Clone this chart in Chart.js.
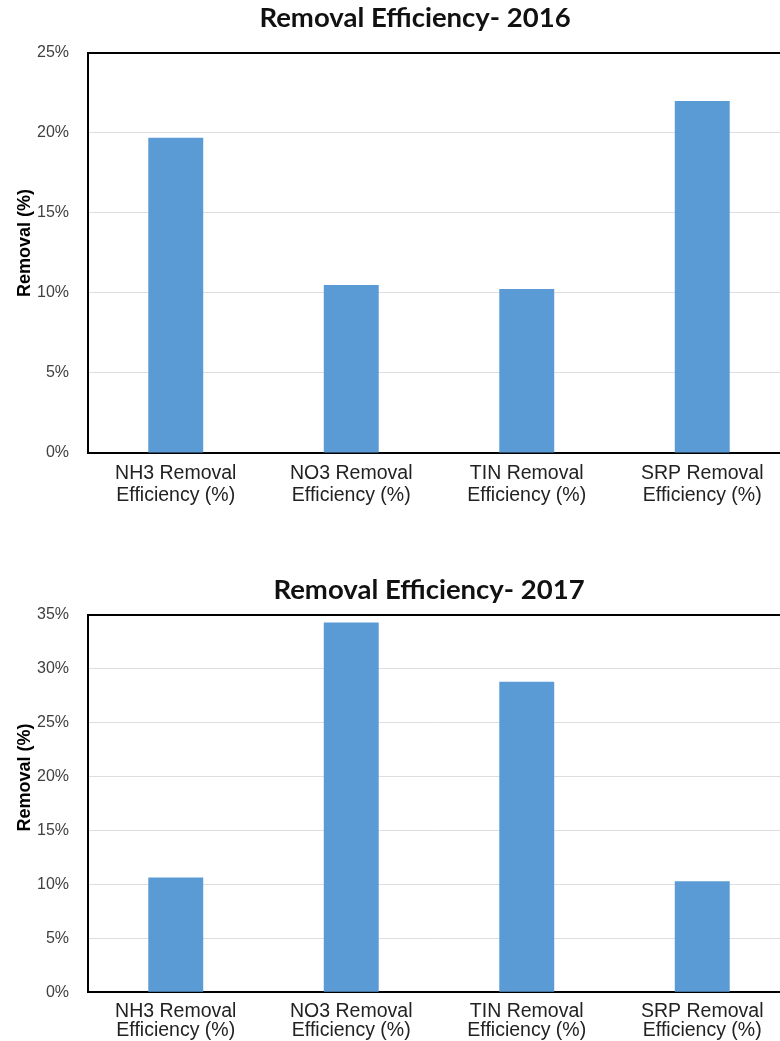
<!DOCTYPE html>
<html>
<head>
<meta charset="utf-8">
<script src="https://cdn.jsdelivr.net/npm/chart.js@4.4.1/dist/chart.umd.min.js"></script>
<style>
    html, body { margin: 0; padding: 0; background: #fff; overflow: hidden; width: 780px; height: 1041px; }
    .box { position: absolute; left: 0; }
    #box1 { top: 0; width: 830px; height: 520px; }
    #box2 { top: 560px; width: 858px; height: 500px; }
</style>
</head>
<body>
<div class="box" id="box1"><canvas id="chart2016"></canvas></div>
<div class="box" id="box2"><canvas id="chart2017"></canvas></div>
<script>
var categorias = [
    ["NH3 Removal", "Efficiency (%)"],
    ["NO3 Removal", "Efficiency (%)"],
    ["TIN Removal", "Efficiency (%)"],
    ["SRP Removal", "Efficiency (%)"]
];
var valores2016 = [19.7, 10.5, 10.25, 22.0];
var valores2017 = [10.65, 34.3, 28.8, 10.3];
var titulo2016 = "Removal Efficiency- 2016";
var titulo2017 = "Removal Efficiency- 2017";
var tituloY = "Removal (%)";
var maxY2016 = 25;
var maxY2017 = 35;
var passoY = 5;

var corBarra = '#5b9bd5';
var corGrade = '#dedede';
var corTexto = '#404040';

// titulo do grafico e do eixo Y desenhados a mao (o Excel centraliza no grafico todo)
const textos = {
    id: 'textos',
    afterDraw(chart, args, o) {
        const ctx = chart.ctx;
        const area = chart.chartArea;
        ctx.save();
        ctx.textAlign = 'center';
        ctx.textBaseline = 'middle';
        ctx.fillStyle = '#111';
        ctx.font = 'bold 27.5px Lato';
        ctx.fillText(o.titulo, chart.width / 2, o.tituloY);
        ctx.translate(o.eixoX, (area.top + area.bottom) / 2 + o.eixoDy);
        ctx.rotate(-Math.PI / 2);
        ctx.fillStyle = '#000';
        ctx.font = 'bold 18px "Liberation Sans"';
        ctx.fillText(tituloY, 0, 0);
        ctx.restore();
    }
};

const novoGrafico = (id, titulo, valores, maxY, op) => {
    let ctx = document.getElementById(id).getContext('2d');
    return new Chart(ctx, {
        type: 'bar',
        data: {
            labels: categorias,
            datasets: [{
                data: valores,
                backgroundColor: corBarra,
                borderWidth: 0,
                barPercentage: 0.313,
                categoryPercentage: 1
            }]
        },
        plugins: [textos],
        options: {
            responsive: true,
            maintainAspectRatio: false,
            animation: false,
            layout: { padding: op.padding },
            plugins: {
                legend: { display: false },
                tooltip: { enabled: false },
                textos: { titulo: titulo, tituloY: op.tituloY, eixoX: 25, eixoDy: op.eixoDy }
            },
            scales: {
                x: {
                    grid: { display: false, drawTicks: false },
                    border: { display: true, color: '#000', width: 2 },
                    ticks: {
                        color: '#222',
                        padding: op.xPad,
                        maxRotation: 0,
                        autoSkip: false,
                        font: { family: 'Liberation Sans', size: 19.5, lineHeight: op.linha }
                    }
                },
                y: {
                    min: 0,
                    max: maxY,
                    afterFit: (s) => { s.width = 88; },
                    ticks: {
                        stepSize: passoY,
                        padding: 19,
                        color: corTexto,
                        font: { family: 'Liberation Sans', size: 16 },
                        callback: (v) => v + '%'
                    },
                    grid: {
                        drawTicks: false,
                        color: (c) => c.tick && c.tick.value == maxY ? '#000' : corGrade,
                        lineWidth: (c) => c.tick && c.tick.value == maxY ? 2 : 1
                    },
                    border: { display: true, color: '#000', width: 2 }
                }
            }
        }
    });
}

novoGrafico('chart2016', titulo2016, valores2016, maxY2016, {
    padding: { left: 0, right: 40, top: 53, bottom: 3 },
    tituloY: 18,
    eixoDy: -10,
    xPad: 10,
    linha: 1.13
});
novoGrafico('chart2017', titulo2017, valores2017, maxY2017, {
    padding: { left: 0, right: 68, top: 55, bottom: 10 },
    tituloY: 30,
    eixoDy: -26,
    xPad: 10,
    linha: 0.97
});
</script>
</body>
</html>
